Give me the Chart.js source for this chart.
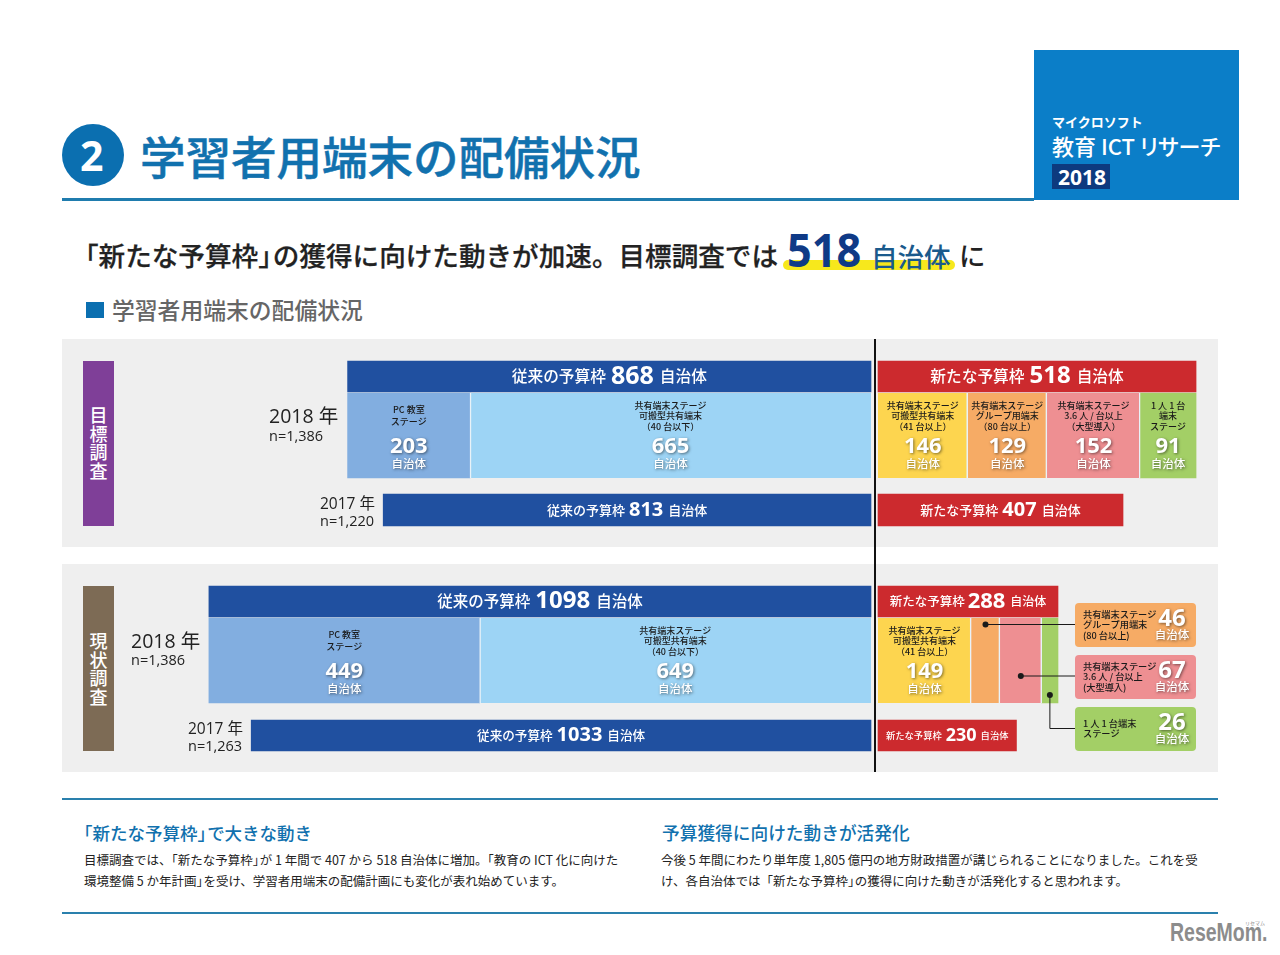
<!DOCTYPE html>
<html lang="ja">
<head>
<meta charset="utf-8">
<title>学習者用端末の配備状況</title>
<script src="https://cdn.jsdelivr.net/npm/chart.js@4"></script>
<style>
html,body{margin:0;padding:0;background:#fff;width:1280px;height:955px;overflow:hidden}
body{position:relative;font-family:"Noto Sans CJK JP","Noto Sans",sans-serif;color:#222}
.t{position:absolute;white-space:nowrap;line-height:1;transform:translateY(-50%)}
.r{position:absolute}
.h{letter-spacing:-.45em}
.num{font-family:"Open Sans","Noto Sans CJK JP",sans-serif}
.v{position:absolute;color:#fff;font-size:18px;line-height:18.7px;width:31px;text-align:center;font-weight:500}
canvas{position:absolute;left:0;top:0}
</style>
</head>
<body>
<div class="r" style="left:62px;top:198px;width:972px;height:2.5px;background:#1f7cae"></div>
<div class="r" style="left:1034px;top:50px;width:205px;height:150px;background:#0b7ec8"></div>
<div class="t" style="left:1052px;top:121px;font-size:13px;font-weight:700;color:#fff">マイクロソフト</div>
<div class="t" style="left:1052px;top:145px;font-size:22px;font-weight:500;color:#fff;font-feature-settings:'palt'">教育 ICT リサーチ</div>
<div class="r" style="left:1052px;top:164px;width:58px;height:25px;background:#0d3a7f"></div>
<div class="t num" style="left:1058px;top:176.5px;font-size:21px;font-weight:700;color:#fff">2018</div>

<div class="r" style="left:62px;top:124px;width:62px;height:62px;border-radius:50%;background:#0b6fb0"></div>
<div class="t num" style="left:80px;top:155px;font-size:41px;font-weight:700;color:#fff">2</div>
<div class="t" style="left:140px;top:155.5px;font-size:45.5px;font-weight:500;color:#1171ae;-webkit-text-stroke:.5px #1171ae">学習者用端末の配備状況</div>

<div class="r" style="left:783px;top:260px;width:172px;height:10px;border-radius:5px;background:#f7e81c"></div>
<div class="t" style="left:72px;top:254.5px;font-size:26.6px;font-weight:500;color:#222;-webkit-text-stroke:.25px #222">「新たな予算枠<span class="h">」</span>の獲得に向けた動きが加速。目標調査では</div>
<div class="t num" style="left:787px;top:249px;font-size:46px;font-weight:700;color:#0f3a86;transform-origin:left center;transform:translateY(-50%) scaleX(.94)">518</div>
<div class="t" style="left:871px;top:255.5px;font-size:26.5px;font-weight:500;color:#1a5a8c">自治体</div>
<div class="t" style="left:959px;top:254.5px;font-size:26.5px;font-weight:500;color:#222">に</div>

<div class="r" style="left:86px;top:302px;width:18px;height:16px;background:#0b6fb0"></div>
<div class="t" style="left:112px;top:310px;font-size:22.8px;font-weight:500;color:#666">学習者用端末の配備状況</div>

<div class="r" style="left:62px;top:339px;width:1156px;height:208px;background:#efefef"></div>
<div class="r" style="left:62px;top:564px;width:1156px;height:208px;background:#efefef"></div>
<div class="r" style="left:83px;top:361px;width:31px;height:165px;background:#7f3f98"></div>
<div class="r" style="left:83px;top:586px;width:31px;height:165px;background:#7d6b55"></div>
<div class="v" style="left:83px;top:405px" id="surveyA"></div>
<div class="v" style="left:83px;top:631px" id="surveyB"></div>

<div class="r" style="left:62px;top:798px;width:1156px;height:2px;background:#2a80ad"></div>
<div class="r" style="left:62px;top:912px;width:1156px;height:2px;background:#2a80ad"></div>
<div class="t" style="left:75px;top:833px;font-size:17.5px;font-weight:500;color:#1171ae">「新たな予算枠<span class="h">」</span>で大きな動き</div>
<div class="t" style="left:84px;top:860px;font-size:12.5px;color:#222">目標調査では、「新たな予算枠<span class="h">」</span>が 1 年間で 407 から 518 自治体に増加。「教育の ICT 化に向けた</div>
<div class="t" style="left:84px;top:881px;font-size:12.5px;color:#222">環境整備 5 か年計画<span class="h">」</span>を受け、学習者用端末の配備計画にも変化が表れ始めています。</div>
<div class="t" style="left:662px;top:833px;font-size:17.7px;font-weight:500;color:#1171ae">予算獲得に向けた動きが活発化</div>
<div class="t" style="left:661px;top:860px;font-size:12.5px;color:#222">今後 5 年間にわたり単年度 1,805 億円の地方財政措置が講じられることになりました。これを受</div>
<div class="t" style="left:661px;top:881px;font-size:12.5px;color:#222">け、各自治体では「新たな予算枠<span class="h">」</span>の獲得に向けた動きが活発化すると思われます。</div>

<div class="t" style="left:1170px;top:932px;font-family:'Liberation Sans',sans-serif;font-size:26px;font-weight:700;color:#8c8c8c;transform-origin:left center;transform:translateY(-50%) scaleX(.75)">ReseMom.</div>
<div class="t" style="left:1245px;top:922px;font-size:5px;color:#8c8c8c">リセマム</div>

<canvas id="chart" width="1280" height="955" style="width:1280px;height:955px"></canvas>

<script>
// ---- Data ----
const surveys = ['目標調査', '現状調査'];
const years = ['2018 年', '2017 年'];
const samples2018 = ['n=1,386', 'n=1,386'];
const samples2017 = ['n=1,220', 'n=1,263'];
const unit = '自治体';
const oldBudget = '従来の予算枠';
const newBudget = '新たな予算枠';

const goalOld2018 = 868, goalNew2018 = 518, goalOld2017 = 813, goalNew2017 = 407;
const nowOld2018 = 1098, nowNew2018 = 288, nowOld2017 = 1033, nowNew2017 = 230;

const goalOldStages = [665, 203];
const nowOldStages = [649, 449];
const goalNewStages = [146, 129, 152, 91];
const nowNewStages = [149, 46, 67, 26];

const oldStageLabels = [
  ['共有端末ステージ', '可搬型共有端末', '（40 台以下）'],
  ['PC 教室', 'ステージ']
];
const newStageLabels = [
  ['共有端末ステージ', '可搬型共有端末', '（41 台以上）'],
  ['共有端末ステージ', 'グループ用端末', '（80 台以上）'],
  ['共有端末ステージ', '3.6 人 / 台以上', '（大型導入）'],
  ['1 人 1 台', '端末', 'ステージ']
];
const calloutLabels = [
  ['共有端末ステージ', 'グループ用端末', '(80 台以上)'],
  ['共有端末ステージ', '3.6 人 / 台以上', '(大型導入)'],
  ['1 人 1 台端末', 'ステージ']
];

// ---- Styles and layout ----
const NAVY = '#2050a0', RED = '#cc2a2e';
const oldStageColors = ['#9dd4f5', '#82aee0'];
const newStageColors = ['#fdd54f', '#f6ab65', '#ee8f92', '#a3cf66'];
const GAP = '#e9f2f8';
const JP = '"Noto Sans CJK JP"', NUM = '"Open Sans","Noto Sans CJK JP"';
const rows = { goalHead: 376.5, goalStage: 435.5, goal17: 510, nowHead: 601.5, nowStage: 660.5, now17: 735.5 };
const heights = { goalHead: 31, goalStage: 85, goal17: 32, nowHead: 31, nowStage: 85, now17: 31 };

document.getElementById('surveyA').innerHTML = surveys[0].split('').join('<br>');
document.getElementById('surveyB').innerHTML = surveys[1].split('').join('<br>');

function addText(txt, left, top, size) {
  const d = document.createElement('div');
  d.className = 't num';
  d.textContent = txt;
  d.style.cssText = 'left:' + left + 'px;top:' + top + 'px;font-size:' + size + 'px;color:#222';
  document.body.appendChild(d);
}
addText(years[0], 269, 416, 19.5);  addText(samples2018[0], 269, 436, 14.5);
addText(years[1], 320, 504, 15.5); addText(samples2017[0], 320, 521, 14.5);
addText(years[0], 131, 641, 19.5);  addText(samples2018[1], 131, 660, 14.5);
addText(years[1], 188, 729, 15.5); addText(samples2017[1], 188, 746, 14.5);

// ---- Datasets ----
function band(row, value, axis, color, text, extra) {
  return Object.assign({
    label: row + ' ' + value,
    data: [{ x: value, y: rows[row] }],
    xAxisID: axis, stack: row + axis, grouped: false,
    backgroundColor: color, barThickness: heights[row],
    borderWidth: 0, text: text, value: value
  }, extra || {});
}
function head(row, value, axis, color, name, s1, s2, s3, dx, g1, g2) {
  return band(row, value, axis, color, { kind: 'head', name, s1, s2, s3, dx: dx || 0, g1: g1 === undefined ? 5 : g1, g2: g2 === undefined ? 6 : g2 });
}
function stage(row, value, axis, color, lines, side, isLast) {
  const w = isLast ? 0 : 1.5;
  const border = side === 'L' ? { left: w, right: 0, top: 0, bottom: 0 } : { left: 0, right: w, top: 0, bottom: 0 };
  return band(row, value, axis, color, lines ? { kind: 'stage', lines } : null,
    { borderWidth: border, borderColor: GAP, borderSkipped: false });
}

const datasets = [
  head('goalHead', goalOld2018, 'xOld18', NAVY, oldBudget, 15.7, 25, 15.7),
  head('goalHead', goalNew2018, 'xNewGoal', RED, newBudget, 15.7, 24, 15.7, -10),
  head('goal17', goalOld2017, 'xOld17', NAVY, oldBudget, 13, 20, 13, 0, 4, 5),
  head('goal17', goalNew2017, 'xNew17', RED, newBudget, 13, 20, 13, 0, 4, 5),
  head('nowHead', nowOld2018, 'xOld18', NAVY, oldBudget, 15.5, 24, 15.5),
  head('nowHead', nowNew2018, 'xNewNow', RED, newBudget, 12.5, 22, 12, 0, 3, 5),
  head('now17', nowOld2017, 'xOld17', NAVY, oldBudget, 12.6, 20, 12.6, 0, 4, 5),
  head('now17', nowNew2017, 'xNew17', RED, newBudget, 9.3, 18, 9.3, 0, 4, 4),
  ...goalOldStages.map((v, i) => stage('goalStage', v, 'xOld18', oldStageColors[i], oldStageLabels[i], 'L', i === goalOldStages.length - 1)),
  ...nowOldStages.map((v, i) => stage('nowStage', v, 'xOld18', oldStageColors[i], oldStageLabels[i], 'L', i === nowOldStages.length - 1)),
  ...goalNewStages.map((v, i) => stage('goalStage', v, 'xNewGoal', newStageColors[i], newStageLabels[i], 'R', i === goalNewStages.length - 1)),
  ...nowNewStages.map((v, i) => stage('nowStage', v, 'xNewNow', newStageColors[i], i === 0 ? newStageLabels[0] : null, 'R', i === nowNewStages.length - 1))
];

// ---- Axes: hidden, each with its own origin and px-per-unit ----
const W = 1280;
function axisLeft(origin, pxPerUnit) {
  return { display: false, stacked: true, reverse: true, min: -(W - origin) / pxPerUnit, max: origin / pxPerUnit };
}
function axisRight(origin, pxPerUnit) {
  return { display: false, stacked: true, min: -origin / pxPerUnit, max: (W - origin) / pxPerUnit };
}

// ---- Text drawing ----
function shadowOn(c) { c.shadowColor = 'rgba(0,0,0,.5)'; c.shadowBlur = 3; c.shadowOffsetX = 1; c.shadowOffsetY = 1; }
function shadowOff(c) { c.shadowColor = 'transparent'; c.shadowBlur = 0; c.shadowOffsetX = 0; c.shadowOffsetY = 0; }
function run(c, parts, cx, cy) {
  let w = 0;
  parts.forEach(p => { c.font = p.font; p.w = c.measureText(p.t).width; w += p.w + (p.gap || 0); });
  let x = cx - w / 2;
  c.textAlign = 'left'; c.textBaseline = 'middle';
  parts.forEach(p => { c.font = p.font; c.fillText(p.t, x, cy + (p.dy || 0)); x += p.w + (p.gap || 0); });
}
function centerLines(c, lines, cx, cy) {
  c.font = '500 9px ' + JP; c.fillStyle = '#1a1a1a'; c.textAlign = 'center'; c.textBaseline = 'middle';
  const offs = lines.length === 2 ? [-26, -14] : [-30, -19.5, -9];
  lines.forEach((l, i) => c.fillText(l, cx, cy + offs[i]));
}
function valueBlock(c, value, cx, numY, unitY, size) {
  c.textAlign = 'center'; c.textBaseline = 'middle'; c.fillStyle = '#fff';
  shadowOn(c);
  c.font = '700 ' + size + 'px ' + NUM; c.fillText(String(value), cx, numY);
  c.font = '500 11.5px ' + JP; c.fillText(unit, cx, unitY);
  shadowOff(c);
}
function roundBox(c, x, y, w, h, r, color) {
  c.fillStyle = color; c.beginPath(); c.roundRect(x, y, w, h, r); c.fill();
}

const annotate = {
  id: 'annotate',
  afterDatasetsDraw(chart) {
    const c = chart.ctx;
    c.save();
    chart.data.datasets.forEach((ds, i) => {
      const bar = chart.getDatasetMeta(i).data[0];
      const cx = (bar.x + bar.base) / 2, cy = bar.y;
      if (!ds.text) return;
      if (ds.text.kind === 'head') {
        c.fillStyle = '#fff';
        run(c, [
          { t: ds.text.name, font: '500 ' + ds.text.s1 + 'px ' + JP, gap: ds.text.g1 },
          { t: String(ds.value), font: '700 ' + ds.text.s2 + 'px ' + NUM, gap: ds.text.g2 },
          { t: unit, font: '500 ' + ds.text.s3 + 'px ' + JP }
        ], cx + ds.text.dx, cy);
      } else {
        centerLines(c, ds.text.lines, cx, cy);
        valueBlock(c, ds.value, cx, cy + 11, cy + 28, 22);
      }
    });

    // centre divider
    c.fillStyle = '#111';
    c.fillRect(874, 339, 2, 433);

    // callouts for the thin 現状調査 stages
    const xBox = 1075, wBox = 121;
    const boxes = [
      { top: 603, h: 44, dotY: 624.5, lineY: 624.5 },
      { top: 655, h: 44, dotY: 676, lineY: 676 },
      { top: 707, h: 44, dotY: 695, lineY: 728.5 }
    ];
    const firstThin = datasets.findIndex(d => d.stack === 'nowStagexNewNow') + 1;
    boxes.forEach((b, k) => {
      const bar = chart.getDatasetMeta(firstThin + k).data[0];
      const bx = (bar.x + bar.base) / 2;
      roundBox(c, xBox, b.top, wBox, b.h, 4, newStageColors[k + 1]);
      c.strokeStyle = '#1a1a1a'; c.lineWidth = 1;
      c.beginPath(); c.moveTo(bx, b.dotY);
      if (b.lineY !== b.dotY) c.lineTo(bx, b.lineY);
      c.lineTo(xBox, b.lineY); c.stroke();
      c.fillStyle = '#1a1a1a';
      c.beginPath(); c.arc(bx, b.dotY, 3, 0, Math.PI * 2); c.fill();
      const mid = b.top + b.h / 2;
      c.font = '500 9.2px ' + JP; c.fillStyle = '#1a1a1a'; c.textAlign = 'left'; c.textBaseline = 'middle';
      const ls = calloutLabels[k];
      const offs = ls.length === 2 ? [-5.5, 5] : [-10.5, 0, 11];
      ls.forEach((l, j) => c.fillText(l, 1083, mid + offs[j]));
      valueBlock(c, nowNewStages[k + 1], 1172, mid - 6, mid + 10, 24);
    });
    c.restore();
  }
};

new Chart(document.getElementById('chart'), {
  type: 'bar',
  data: { datasets },
  plugins: [annotate],
  options: {
    indexAxis: 'y',
    responsive: false,
    animation: false,
    devicePixelRatio: 1,
    layout: { padding: 0 },
    plugins: { legend: { display: false }, tooltip: { enabled: false } },
    scales: {
      y: { type: 'linear', display: false, reverse: true, offset: false, min: 0, max: 955 },
      xOld18: axisLeft(871, 0.603),
      xOld17: axisLeft(871, 0.600),
      xNewGoal: axisRight(878, 0.614),
      xNewNow: axisRight(878, 0.625),
      xNew17: axisRight(878, 0.602)
    }
  }
});
</script>
</body>
</html>
